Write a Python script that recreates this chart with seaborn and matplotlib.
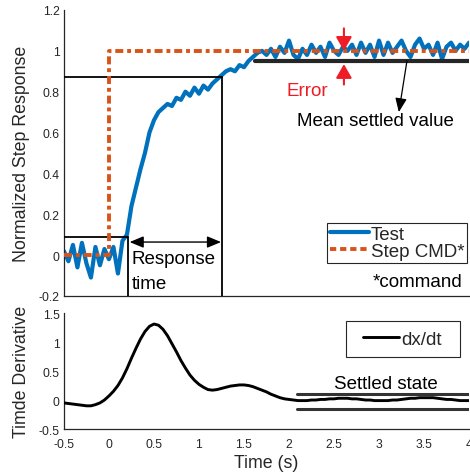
import numpy as np
import pandas as pd
import matplotlib
matplotlib.use("Agg")
import matplotlib.pyplot as plt
from matplotlib.lines import Line2D
from matplotlib.patches import Rectangle
from matplotlib.ticker import FormatStrFormatter
import seaborn as sns

# ---------------------------------------------------------------- data
time_s = np.round(np.arange(-0.5, 4.0001, 0.05), 2)

test_response = [
    0.02, -0.03, 0.05, -0.06, 0.06, -0.04, -0.11, 0.04, -0.05, 0.03,
    -0.02, 0.04, -0.09, 0.07, 0.10, 0.24, 0.33, 0.42, 0.50, 0.60,
    0.66, 0.70, 0.72, 0.74, 0.73, 0.77, 0.76, 0.80, 0.78, 0.82,
    0.79, 0.83, 0.81, 0.84, 0.86, 0.88, 0.90, 0.91, 0.90, 0.93,
    0.92, 0.95, 0.97, 0.99, 1.00, 0.98, 1.01, 0.97, 1.02, 0.99,
    1.05, 0.98, 0.96, 1.01, 0.98, 1.03, 0.99, 1.02, 0.97, 1.04,
    1.00, 0.98, 1.02, 1.00, 1.03, 0.98, 1.04, 0.99, 1.03, 0.97,
    1.05, 0.98, 1.04, 0.99, 1.02, 1.05, 1.00, 0.97, 1.03, 1.06,
    1.01, 1.03, 0.98, 1.04, 0.96, 1.02, 1.04, 1.00, 1.03, 1.01,
    1.04,
]

cmd_time = [-0.5, 0.0, 0.0, 4.0]
cmd_level = [0.0, 0.0, 1.0, 1.0]

derivative = [
    -0.05, -0.06, -0.07, -0.08, -0.09, -0.10, -0.10, -0.08, -0.05, 0.00,
    0.07, 0.15, 0.25, 0.38, 0.54, 0.72, 0.89, 1.05, 1.18, 1.27,
    1.31, 1.29, 1.22, 1.11, 0.97, 0.83, 0.68, 0.55, 0.43, 0.34,
    0.27, 0.22, 0.18, 0.17, 0.18, 0.20, 0.22, 0.24, 0.25, 0.26,
    0.26, 0.25, 0.23, 0.20, 0.17, 0.14, 0.10, 0.07, 0.04, 0.02,
    0.01, 0.00, -0.01, -0.01, -0.01, 0.00, 0.00, 0.01, 0.01, 0.02,
    0.02, 0.03, 0.03, 0.03, 0.02, 0.02, 0.01, 0.00, 0.00, -0.01,
    -0.01, -0.01, -0.01, 0.00, 0.00, 0.01, 0.02, 0.03, 0.03, 0.04,
    0.04, 0.04, 0.04, 0.03, 0.02, 0.01, 0.01, 0.00, -0.01, -0.01,
    -0.01,
]

# response-time markers
start_level, start_time = 0.09, 0.21
rise_level, rise_time = 0.87, 1.255
# settling
mean_settled, settled_from = 0.95, 1.62
band_upper, band_lower, band_from = 0.10, -0.15, 2.09

y_ticks_top = [-0.2, 0, 0.2, 0.4, 0.6, 0.8, 1.0, 1.2]
y_ticks_bottom = [-0.5, 0, 0.5, 1.0, 1.5]
x_ticks = [-0.5, 0, 0.5, 1, 1.5, 2, 2.5, 3, 3.5, 4]

# ---------------------------------------------------------------- style
sns.set_theme(style="white")
plt.rcParams["font.family"] = ["Liberation Sans", "DejaVu Sans"]

BLUE = "#0072BD"
ORANGE = "#D95319"
INK = "#262626"
RED = "#EE1C25"
TICK_FS = 8.7
LABEL_FS = 12.8
NOTE_FS = 13.5

fig = plt.figure(figsize=(4.70, 4.77), dpi=100)
ax1 = fig.add_axes([0.136, 0.3774, 0.862, 0.5996])
ax2 = fig.add_axes([0.136, 0.0985, 0.862, 0.2432])

# ---------------------------------------------------------------- top panel
resp = pd.DataFrame({"t": time_s, "x": test_response})
cmd = pd.DataFrame({"t": cmd_time, "x": cmd_level})

sns.lineplot(data=resp, x="t", y="x", ax=ax1, color=BLUE, linewidth=3.0,
             estimator=None, sort=False, zorder=2)
sns.lineplot(data=cmd, x="t", y="x", ax=ax1, color=ORANGE, linewidth=2.8,
             estimator=None, sort=False, zorder=4,
             linestyle=(0, (2.05, 1.0, 1.0, 1.0)))

# response-time guides
ax1.plot([-0.5, rise_time], [rise_level, rise_level], color="black", lw=1.3, zorder=3)
ax1.plot([rise_time, rise_time], [rise_level, -0.2], color="black", lw=1.3, zorder=3)
ax1.plot([-0.5, start_time], [start_level, start_level], color="black", lw=1.3, zorder=3)
ax1.plot([start_time, start_time], [start_level, -0.2], color="black", lw=1.3, zorder=3)
ax1.annotate("", xy=(0.23, 0.064), xytext=(1.245, 0.064),
             arrowprops=dict(arrowstyle="<|-|>,head_length=0.6,head_width=0.25",
                             color="black", lw=1.0, shrinkA=0, shrinkB=0,
                             mutation_scale=14))
ax1.text(0.255, -0.015, "Response", fontsize=NOTE_FS, ha="left", va="center", color="black")
ax1.text(0.255, -0.137, "time", fontsize=NOTE_FS, ha="left", va="center", color="black")

# settled mean and error
ax1.plot([settled_from, 4.0], [mean_settled, mean_settled], color=INK, lw=3.0, zorder=3)
ax1.annotate("", xy=(2.61, 1.0), xytext=(2.61, 1.11),
             arrowprops=dict(arrowstyle="-|>,head_length=0.7,head_width=0.4",
                             color=RED, lw=1.5, shrinkA=0, shrinkB=0, mutation_scale=12),
             zorder=6)
ax1.annotate("", xy=(2.61, 0.935), xytext=(2.61, 0.835),
             arrowprops=dict(arrowstyle="-|>,head_length=0.7,head_width=0.4",
                             color=RED, lw=1.5, shrinkA=0, shrinkB=0, mutation_scale=12),
             zorder=6)
ax1.text(1.97, 0.805, "Error", fontsize=NOTE_FS, color=RED, ha="left", va="center")
ax1.annotate("", xy=(3.22, 0.70), xytext=(3.31, 0.95),
             arrowprops=dict(arrowstyle="-|>,head_length=0.6,head_width=0.25",
                             color="black", lw=0.9, shrinkA=0, shrinkB=0, mutation_scale=14))
ax1.text(2.96, 0.66, "Mean settled value", fontsize=NOTE_FS, ha="center", va="center",
         color="black")

h_test = Line2D([], [], color=BLUE, lw=3.0)
h_cmd = Line2D([], [], color=ORANGE, lw=2.8, linestyle=(0, (1.6, 1.0)))
leg1 = ax1.legend(handles=[h_test, h_cmd], labels=["Test", "Step CMD*"],
                  loc="upper right", bbox_to_anchor=(0.995, 0.2552),
                  bbox_transform=ax1.transAxes, borderaxespad=0, fontsize=NOTE_FS,
                  handlelength=2.05, handletextpad=0.1, labelspacing=0.0,
                  borderpad=0.15, frameon=True, fancybox=False, framealpha=1,
                  edgecolor=INK)
leg1.get_frame().set_linewidth(0.8)
ax1.text(3.93, -0.13, "*command", fontsize=NOTE_FS, ha="right", va="center", color="black")

ax1.set_xlim(-0.5, 4.0)
ax1.set_ylim(-0.2, 1.2)
ax1.set_yticks(y_ticks_top)
ax1.yaxis.set_major_formatter(FormatStrFormatter("%g"))
ax1.tick_params(axis="x", bottom=False, labelbottom=False)
ax1.set_xlabel("")
ax1.set_ylabel("Normalized Step Response", fontsize=LABEL_FS, color=INK)

# ---------------------------------------------------------------- bottom panel
deriv = pd.DataFrame({"t": time_s, "dxdt": derivative})
sns.lineplot(data=deriv, x="t", y="dxdt", ax=ax2, color="black", linewidth=2.1,
             estimator=None, sort=False, zorder=3)
ax2.plot([band_from, 4.0], [band_upper, band_upper], color="#333333", lw=2.2, zorder=2)
ax2.plot([band_from, 4.0], [band_lower, band_lower], color="#333333", lw=2.2, zorder=2)
ax2.text(3.08, 0.28, "Settled state", fontsize=NOTE_FS, ha="center", va="center",
         color="black")

# legend with a wider, hand-sized frame
ax2.add_patch(Rectangle((0.696, 0.621), 0.282, 0.310, transform=ax2.transAxes,
                        facecolor="white", edgecolor=INK, linewidth=0.8, zorder=5))
h_der = Line2D([], [], color="black", lw=2.1)
leg2 = ax2.legend(handles=[h_der], labels=["dx/dt"], loc="center left",
                  bbox_to_anchor=(0.738, 0.776), bbox_transform=ax2.transAxes,
                  borderaxespad=0, fontsize=NOTE_FS, handlelength=1.95,
                  handletextpad=0.1, borderpad=0.0, frameon=False)
leg2.set_zorder(6)

ax2.set_xlim(-0.5, 4.0)
ax2.set_ylim(-0.5, 1.5)
ax2.set_xticks(x_ticks)
ax2.set_yticks(y_ticks_bottom)
ax2.xaxis.set_major_formatter(FormatStrFormatter("%g"))
ax2.yaxis.set_major_formatter(FormatStrFormatter("%g"))
ax2.set_xlabel("Time (s)", fontsize=LABEL_FS, color=INK)
ax2.set_ylabel("Timde Derivative", fontsize=LABEL_FS, color=INK)

# ---------------------------------------------------------------- axes cosmetics
for ax in (ax1, ax2):
    ax.set_facecolor("white")
    ax.grid(False)
    for side in ("top", "right"):
        ax.spines[side].set_visible(False)
    for side in ("left", "bottom"):
        ax.spines[side].set_visible(True)
        ax.spines[side].set_color(INK)
        ax.spines[side].set_linewidth(0.9)
    ax.tick_params(axis="both", direction="in", length=4, width=0.9, colors=INK,
                   labelsize=TICK_FS, pad=3)
    ax.yaxis.label.set_va("center")
    ax.yaxis.set_label_coords(-0.105, 0.5)

ax1.tick_params(axis="x", bottom=False, labelbottom=False)
ax2.tick_params(axis="x", pad=6.5)
ax2.xaxis.label.set_va("center")
ax2.xaxis.set_label_coords(0.5, -0.285)

fig.savefig("out.png", dpi=100, facecolor="white")
